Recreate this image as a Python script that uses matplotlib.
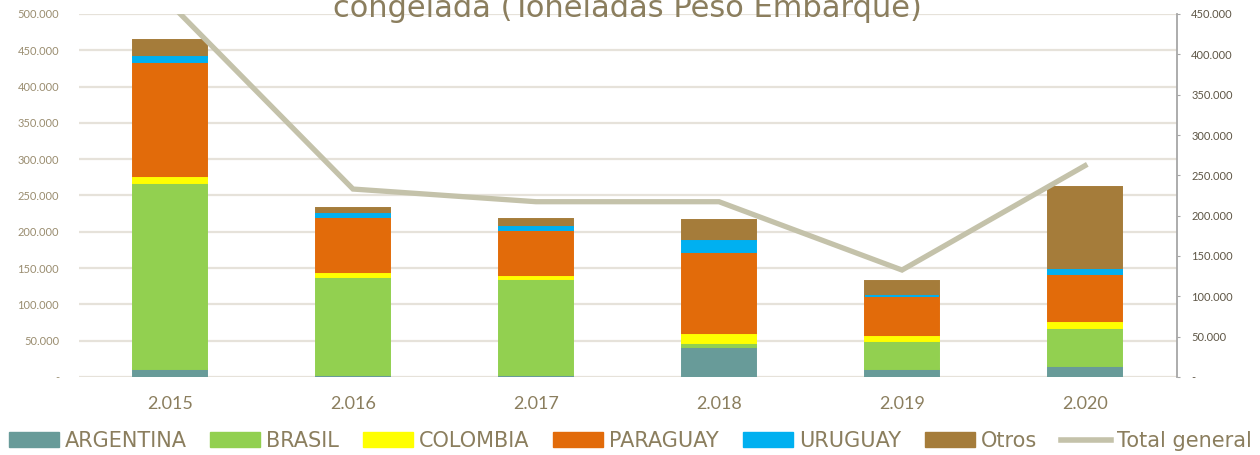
import matplotlib

matplotlib.use("Agg")
import matplotlib.pyplot as plt
import numpy as np
from matplotlib.lines import Line2D
from matplotlib.patches import Patch
from matplotlib.ticker import FuncFormatter, MultipleLocator

# values (tonnes)
years = ["2.015", "2.016", "2.017", "2.018", "2.019", "2.020"]
argentina = [11000, 3000, 3000, 41000, 11000, 15500]
brasil = [256000, 135000, 132000, 6500, 38500, 52000]
colombia = [7000, 3300, 2700, 10000, 5500, 6500]
paraguay = [160000, 78500, 65000, 115000, 56000, 68000]
uruguay = [6300, 4100, 4100, 14200, 800, 5000]
otros = [24000, 8300, 10300, 30000, 20400, 114300]
total_general = [463000, 233000, 217300, 217300, 132600, 262000]

series = [
    ("ARGENTINA", argentina, "#689b99"),
    ("BRASIL", brasil, "#92d050"),
    ("COLOMBIA", colombia, "#ffff00"),
    ("PARAGUAY", paraguay, "#e26b0a"),
    ("URUGUAY", uruguay, "#00b0f0"),
    ("Otros", otros, "#a57c3a"),
]
thin = {"COLOMBIA", "URUGUAY"}
line_color = "#c4c2aa"
text_color = "#8b7e5e"
grid_color = "#e6e2da"


def fmt(v, _):
    return "-" if v == 0 else f"{int(round(v)):,}".replace(",", ".")


fig = plt.figure(figsize=(12.6, 4.55), dpi=100)
ax = fig.add_axes([78.5 / 1260, 78 / 455, 1098 / 1260, 363 / 455])
x = np.arange(len(years))

bottom = np.zeros(len(years))
for name, vals, col in series:
    ax.bar(x, vals, 0.4, bottom=bottom, color=col, edgecolor=col, lw=1.4,
           zorder=4 if name in thin else 3)
    bottom += np.asarray(vals, dtype=float)

ax.set_xlim(-0.5, len(years) - 0.5)
ax.set_ylim(0, 500000)
ax.yaxis.set_major_locator(MultipleLocator(50000))
ax.yaxis.set_major_formatter(FuncFormatter(fmt))
ax.grid(axis="y", color=grid_color, lw=1.6)
ax.set_axisbelow(True)
for s in ax.spines.values():
    s.set_visible(False)
ax.set_xticks(x)
ax.set_xticklabels(years)
ax.tick_params(axis="y", length=0, pad=14, labelsize=8, labelcolor="#9a8d70")
ax.tick_params(axis="x", length=0, pad=14, labelsize=13, labelcolor=text_color)
for lab in ax.get_yticklabels() + ax.get_xticklabels():
    lab.set_family("Lato")

ax2 = ax.twinx()
ax2.plot(x, total_general, color=line_color, lw=3.8, solid_joinstyle="miter", zorder=5)
ax2.set_ylim(0, 450000)
ax2.yaxis.set_major_locator(MultipleLocator(50000))
ax2.yaxis.set_major_formatter(FuncFormatter(fmt))
for k, s in ax2.spines.items():
    s.set_visible(k == "right")
ax2.spines["right"].set_color("#a6a6a6")
ax2.spines["right"].set_linewidth(1.3)
ax2.tick_params(axis="y", direction="out", length=2.5, color="#a6a6a6", pad=8,
                labelsize=8, labelcolor="#5e5646")
for lab in ax2.get_yticklabels():
    lab.set_family("Lato")

# second line of a two-line title; the first line sits above the canvas in the source
fig.text(0.498, (455 - 17) / 455, "congelada (Toneladas Peso Embarque)",
         ha="center", va="baseline", fontsize=22, color=text_color)

handles = [Patch(facecolor=c, edgecolor=c, label=n) for n, _, c in series]
handles.append(Line2D([], [], color=line_color, lw=4, label="Total general"))
fig.legend(handles=handles, loc="center", bbox_to_anchor=(0.5, 14 / 455), ncol=7,
           frameon=False, fontsize=15, labelcolor=text_color, handlelength=2.4,
           handleheight=0.7, handletextpad=0.28, columnspacing=1.15, borderpad=0,
           borderaxespad=0)

fig.savefig("out.png", dpi=100)
